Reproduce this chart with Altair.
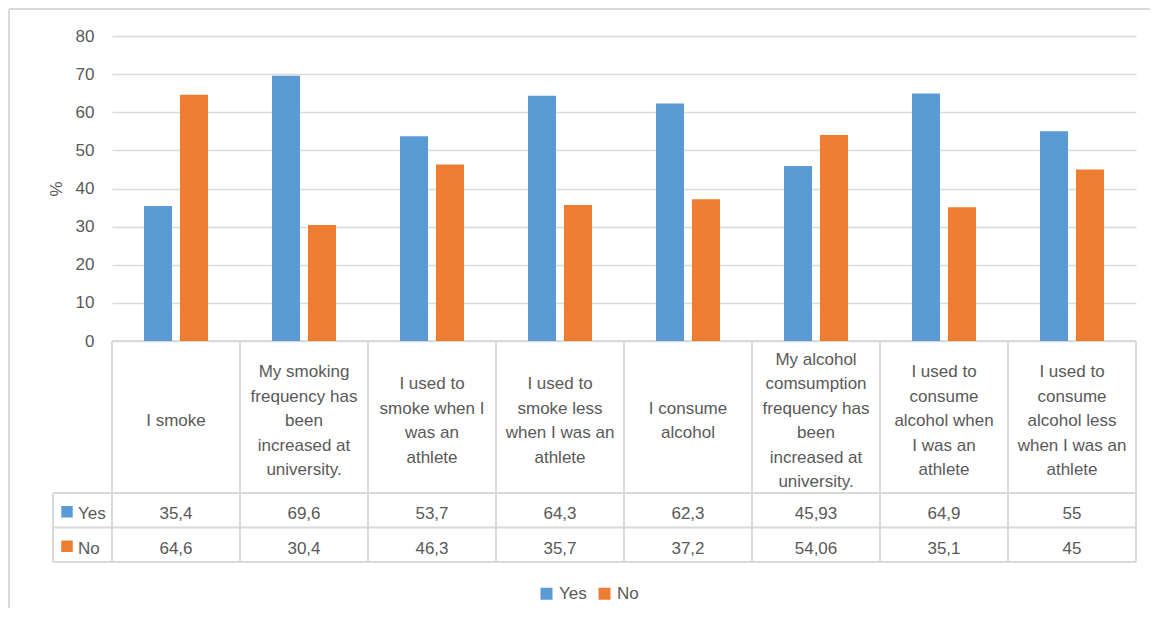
import altair as alt
import pandas as pd

categories = [
    "I smoke",
    "My smoking frequency has been increased at university.",
    "I used to smoke when I was an athlete",
    "I used to smoke less when I was an athlete",
    "I consume alcohol",
    "My alcohol comsumption frequency has been increased at university.",
    "I used to consume alcohol when I was an athlete",
    "I used to consume alcohol less when I was an athlete",
]
wrapped = [
    "I smoke",
    "My smoking\nfrequency has\nbeen\nincreased at\nuniversity.",
    "I used to\nsmoke when I\nwas an\nathlete",
    "I used to\nsmoke less\nwhen I was an\nathlete",
    "I consume\nalcohol",
    "My alcohol\ncomsumption\nfrequency has\nbeen\nincreased at\nuniversity.",
    "I used to\nconsume\nalcohol when\nI was an\nathlete",
    "I used to\nconsume\nalcohol less\nwhen I was an\nathlete",
]
series = ["Yes", "No"]
yes_values = [35.4, 69.6, 53.7, 64.3, 62.3, 45.93, 64.9, 55]
no_values = [64.6, 30.4, 46.3, 35.7, 37.2, 54.06, 35.1, 45]
y_ticks = [0, 10, 20, 30, 40, 50, 60, 70, 80]
colors = ["#5B9BD5", "#ED7D31"]

W, H = 1024, 305
TXT = "#595959"
LINE = "#D9D9D9"
FONT = "Liberation Sans"
FS = 17
LH = 24.5

rows = []
for i, c in enumerate(categories):
    for s, vals in zip(series, [yes_values, no_values]):
        v = vals[i]
        rows.append({"category": c, "series": s, "value": v,
                     "label": str(v).replace(".", ",")})
df = pd.DataFrame(rows)
cat_df = pd.DataFrame({"category": categories, "wrapped": wrapped})
ser_df = pd.DataFrame({"series": series, "clr": colors})

x_scale = alt.Scale(domain=categories, paddingInner=0, paddingOuter=0)
xo_scale = alt.Scale(domain=series, paddingInner=8 / 36, paddingOuter=32 / 36)
color_scale = alt.Scale(domain=series, range=colors)
row_scale = alt.Scale(type="band", domain=series, range=[457, 526],
                      paddingInner=0, paddingOuter=0)

X = alt.X("category:N", scale=x_scale, axis=None)

bars = alt.Chart(df).mark_bar().encode(
    x=X,
    xOffset=alt.XOffset("series:N", scale=xo_scale),
    y=alt.Y("value:Q", scale=alt.Scale(domain=[0, 80], nice=False),
            axis=alt.Axis(values=y_ticks, title="%", grid=True, gridColor=LINE,
                          gridWidth=1.5, domain=False, ticks=False,
                          labelPadding=18, labelFontSize=FS, labelFont=FONT,
                          labelColor=TXT, titleFontSize=FS, titleFont=FONT,
                          titleColor=TXT, titleFontWeight="normal",
                          titlePadding=10)),
    color=alt.Color("series:N", scale=color_scale,
                    legend=alt.Legend(title=None, orient="none",
                                      direction="horizontal", legendX=426,
                                      legendY=549, symbolType="square",
                                      symbolSize=144, symbolStrokeWidth=0,
                                      labelFontSize=FS, labelFont=FONT,
                                      labelColor=TXT, labelOffset=4,
                                      columnPadding=9, padding=0)),
)

# centre each wrapped label block vertically in the header cell
header = alt.Chart(cat_df).transform_calculate(
    ty=f"385 - (length(split(datum.wrapped, '\\n')) - 1) * {LH / 2}"
).mark_text(
    lineBreak="\n", fontSize=FS, font=FONT, color=TXT, baseline="middle",
    lineHeight=LH
).encode(x=X, y=alt.Y("ty:Q", scale=None, axis=None), text="wrapped:N")

RowY = alt.Y("series:N", scale=row_scale, axis=None)

values = alt.Chart(df).mark_text(
    fontSize=FS, font=FONT, color=TXT, baseline="middle", dy=4
).encode(x=X, y=RowY, text="label:N")

row_sq = alt.Chart(ser_df).mark_square(size=132, opacity=1, yOffset=1.5).encode(
    x=alt.value(-45), y=RowY, color=alt.Color("clr:N", scale=None)
)
row_txt = alt.Chart(ser_df).mark_text(
    fontSize=FS, font=FONT, color=TXT, baseline="middle", align="left", dy=4
).encode(x=alt.value(-34), y=RowY, text="series:N")

rule = dict(color=LINE, strokeWidth=2)
vlines = alt.Chart(cat_df).mark_rule(**rule).encode(
    x=alt.X("category:N", scale=x_scale, bandPosition=0, axis=None),
    y=alt.value(H), y2=alt.value(526)
)
vright = alt.Chart(cat_df).mark_rule(**rule).encode(
    x=alt.value(W), y=alt.value(H), y2=alt.value(526)
)
top_line = alt.Chart(cat_df).mark_rule(**rule).encode(
    x=alt.value(0), x2=alt.value(W), y=alt.value(H)
)
hlines = alt.Chart(ser_df).mark_rule(**rule).encode(
    y=alt.Y("series:N", scale=row_scale, bandPosition=0, axis=None),
    x=alt.value(-59), x2=alt.value(W)
)
hbottom = alt.Chart(ser_df).mark_rule(**rule).encode(
    x=alt.value(-59), x2=alt.value(W), y=alt.value(526)
)
vleft = alt.Chart(ser_df).mark_rule(**rule).encode(
    x=alt.value(-59), y=alt.value(457), y2=alt.value(526)
)
frame_l = alt.Chart(ser_df).mark_rule(**rule).encode(
    x=alt.value(-103), y=alt.value(-27), y2=alt.value(580)
)
frame_t = alt.Chart(ser_df).mark_rule(**rule).encode(
    x=alt.value(-103), x2=alt.value(1040), y=alt.value(-27)
)

chart = alt.layer(
    frame_l, frame_t, vlines, vright, top_line, hlines, hbottom, vleft,
    bars, header, values, row_sq, row_txt
).resolve_scale(y="independent").properties(
    width=W, height=H,
    autosize=alt.AutoSizeParams(type="none"),
    padding={"left": 104, "top": 28, "right": 14, "bottom": 267},
    background="white",
).configure_view(strokeWidth=0)

chart.save("out.html", embed_options={"renderer": "svg", "actions": False})
